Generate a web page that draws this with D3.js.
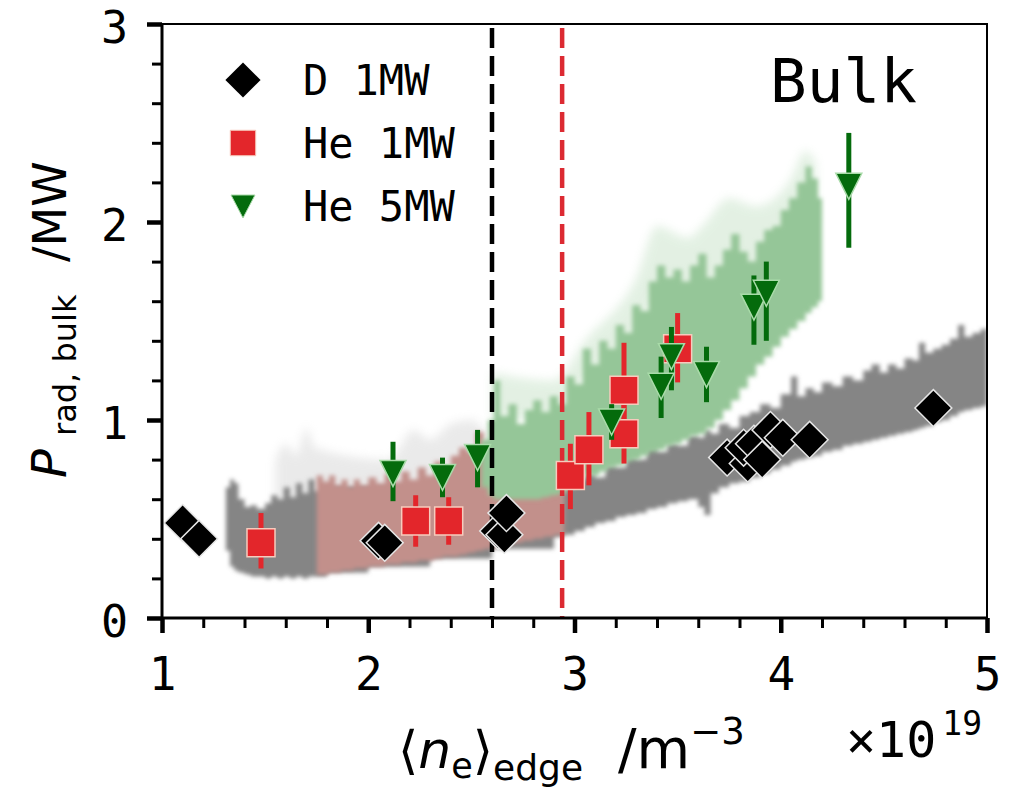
<!DOCTYPE html>
<html>
<head>
<meta charset="utf-8">
<script src="https://cdn.jsdelivr.net/npm/d3@7/dist/d3.min.js"></script>
<style>
  body { margin: 0; background: #fff }
  svg { display: block }
</style>
</head>
<body>
<svg id="chart" width="1012" height="788"></svg>
<script>
// D 1MW points
const dX = [1.10, 1.18, 2.05, 2.08, 2.63, 2.66, 2.67, 3.74, 3.84, 3.82, 3.87, 3.91, 3.95, 4.01, 4.14, 4.74]
const dY = [0.48, 0.40, 0.39, 0.38, 0.44, 0.42, 0.53, 0.81, 0.78, 0.86, 0.88, 0.80, 0.95, 0.91, 0.90, 1.06]

// He 1MW points with error bars
const he1X  = [1.48, 2.23, 2.39, 2.98, 3.07, 3.24, 3.24, 3.50]
const he1Y  = [0.38, 0.49, 0.49, 0.72, 0.85, 0.93, 1.15, 1.36]
const he1Lo = [0.25, 0.36, 0.37, 0.55, 0.67, 0.78, 0.96, 1.19]
const he1Hi = [0.53, 0.62, 0.61, 0.88, 1.04, 1.08, 1.39, 1.54]

// He 5MW points with error bars
const he5X  = [2.12, 2.36, 2.53, 3.18, 3.42, 3.47, 3.64, 3.87, 3.93, 4.33]
const he5Y  = [0.73, 0.71, 0.81, 0.99, 1.17, 1.32, 1.23, 1.57, 1.64, 2.18]
const he5Lo = [0.59, 0.61, 0.66, 0.90, 1.01, 1.15, 1.09, 1.38, 1.40, 1.87]
const he5Hi = [0.89, 0.81, 0.95, 1.08, 1.32, 1.47, 1.37, 1.73, 1.80, 2.45]

// time-trace clouds behind the points (x, lower edge, upper edge)
const dBandX  = [1.31, 1.33, 1.35, 1.37, 1.40, 1.43, 1.46, 1.50, 1.53, 1.56, 1.59, 1.62, 1.65, 1.68, 1.71, 1.74, 1.80, 2.00, 2.30, 2.60, 2.90,
                 2.95, 3.00, 3.05, 3.10, 3.15, 3.20, 3.25, 3.30, 3.35, 3.40, 3.45, 3.50, 3.55, 3.60, 3.63, 3.66, 3.70, 3.75, 3.80, 3.85,
                 3.90, 3.95, 4.00, 4.05, 4.08, 4.12, 4.16, 4.20, 4.25, 4.30, 4.35, 4.40, 4.44, 4.48, 4.52, 4.56, 4.60, 4.64, 4.67, 4.70,
                 4.74, 4.78, 4.82, 4.86, 4.89, 4.93, 4.97, 5.00]
const dBandLo = [0.34, 0.26, 0.24, 0.23, 0.22, 0.21, 0.21, 0.20, 0.21, 0.20, 0.21, 0.20, 0.21, 0.20, 0.21, 0.21, 0.23, 0.26, 0.30, 0.35, 0.41,
                 0.42, 0.44, 0.46, 0.48, 0.49, 0.51, 0.52, 0.53, 0.55, 0.56, 0.58, 0.59, 0.60, 0.56, 0.52, 0.63, 0.66, 0.68, 0.69, 0.71,
                 0.73, 0.75, 0.77, 0.79, 0.80, 0.81, 0.82, 0.84, 0.85, 0.87, 0.88, 0.89, 0.90, 0.91, 0.92, 0.93, 0.94, 0.95, 0.96, 0.97,
                 0.99, 1.00, 1.02, 1.04, 1.05, 1.06, 1.07, 1.09]
const dBandHi = [0.66, 0.70, 0.68, 0.60, 0.56, 0.57, 0.55, 0.58, 0.62, 0.60, 0.66, 0.61, 0.68, 0.63, 0.70, 0.64, 0.66, 0.66, 0.68, 0.66, 0.64,
                 0.66, 0.70, 0.73, 0.71, 0.77, 0.76, 0.81, 0.80, 0.86, 0.84, 0.88, 0.87, 0.92, 0.91, 0.95, 0.93, 0.98, 0.96, 1.02, 1.04,
                 1.08, 1.06, 1.13, 1.22, 1.12, 1.16, 1.14, 1.19, 1.17, 1.22, 1.20, 1.25, 1.28, 1.24, 1.28, 1.26, 1.31, 1.30, 1.39, 1.34,
                 1.36, 1.38, 1.41, 1.48, 1.42, 1.44, 1.46, 1.45]

const he1BandX  = [1.75, 1.78, 1.81, 1.84, 1.87, 1.90, 1.93, 1.96, 2.00, 2.04, 2.08, 2.12, 2.16, 2.20, 2.24, 2.28,
                   2.32, 2.36, 2.40, 2.44, 2.48, 2.52, 2.56, 2.60, 2.65, 2.70, 2.75, 2.80, 2.85, 2.90, 2.95]
const he1BandLo = [0.22, 0.22, 0.23, 0.23, 0.24, 0.24, 0.25, 0.25, 0.26, 0.26, 0.27, 0.27, 0.28, 0.28, 0.29, 0.29,
                   0.30, 0.31, 0.31, 0.32, 0.33, 0.34, 0.35, 0.36, 0.37, 0.38, 0.39, 0.40, 0.41, 0.42, 0.43]
const he1BandHi = [0.72, 0.69, 0.72, 0.67, 0.70, 0.66, 0.70, 0.67, 0.71, 0.68, 0.73, 0.69, 0.74, 0.70, 0.76, 0.72,
                   0.79, 0.75, 0.82, 0.86, 0.84, 0.94, 0.88, 0.84, 0.80, 0.82, 0.78, 0.80, 0.76, 0.74, 0.70]

const he5BandX  = [2.55, 2.58, 2.61, 2.64, 2.68, 2.72, 2.76, 2.80, 2.84, 2.88, 2.92, 2.96, 3.00, 3.04, 3.08, 3.12, 3.16, 3.20, 3.24, 3.28, 3.32,
                   3.36, 3.40, 3.44, 3.48, 3.52, 3.56, 3.60, 3.64, 3.68, 3.72, 3.76, 3.80, 3.84, 3.88, 3.92, 3.96, 4.00, 4.04, 4.08, 4.12,
                   4.15, 4.18, 4.20]
const he5BandLo = [0.66, 0.62, 0.60, 0.60, 0.60, 0.60, 0.60, 0.60, 0.61, 0.62, 0.63, 0.66, 0.70, 0.72, 0.72, 0.74, 0.76, 0.77, 0.79, 0.80, 0.82,
                   0.84, 0.85, 0.87, 0.88, 0.90, 0.92, 0.93, 0.96, 1.00, 1.05, 1.10, 1.16, 1.22, 1.28, 1.32, 1.37, 1.42, 1.46, 1.50, 1.54,
                   1.57, 1.60, 1.66]
const he5BandHi = [0.90, 1.00, 1.20, 1.02, 1.08, 0.98, 1.05, 1.10, 1.04, 1.12, 1.08, 1.22, 1.18, 1.36, 1.28, 1.40, 1.36, 1.48, 1.44, 1.58, 1.55,
                   1.70, 1.78, 1.72, 1.76, 1.70, 1.78, 1.84, 1.72, 1.78, 1.86, 1.94, 1.85, 1.80, 1.90, 1.96, 1.98, 2.06, 2.12, 2.20, 2.28,
                   2.22, 2.12, 2.00]

// faint scatter above the clouds
const grayHazeX  = [1.55, 1.60, 1.65, 1.70, 1.74, 2.10, 2.22, 2.30, 2.40, 2.50, 2.56]
const grayHazeLo = [0.55, 0.55, 0.55, 0.55, 0.55, 0.60, 0.65, 0.65, 0.70, 0.80, 0.80]
const grayHazeHi = [0.80, 0.88, 0.82, 0.96, 0.86, 0.80, 0.95, 0.90, 0.98, 1.00, 0.95]
const greenHazeX  = [2.60, 2.90, 3.05, 3.30, 3.40, 3.55, 3.62, 3.75, 3.88, 4.05, 4.12, 4.17]
const greenHazeLo = [1.00, 1.00, 1.20, 1.40, 1.60, 1.60, 1.60, 1.70, 1.70, 1.90, 2.00, 2.00]
const greenHazeHi = [1.24, 1.20, 1.40, 1.72, 1.98, 1.92, 1.98, 2.12, 2.08, 2.22, 2.36, 2.30]

const xMajor = [1, 2, 3, 4, 5]
const yMajor = [0, 1, 2, 3]
const vLines = [2.60, 2.94]
const vLineColors = ["#000", "#dc2a32"]
const legendNames = ["D 1MW", "He 1MW", "He 5MW"]

const svg = d3.select("#chart")
const x = d3.scaleLinear().domain([1, 5]).range([162, 987])
const y = d3.scaleLinear().domain([0, 3]).range([618, 24])

const zip3 = (a, b, c) => a.map((v, i) => ({x: v, lo: b[i], hi: c[i]}))
const area = d3.area()
    .x(d => x(d.x))
    .y0(d => y(d.lo))
    .y1(d => y(d.hi))
    .curve(d3.curveStepAfter)
const hazeArea = d3.area()
    .x(d => x(d.x))
    .y0(d => y(d.lo))
    .y1(d => y(d.hi))
    .curve(d3.curveMonotoneX)

const defs = svg.append("defs")
defs.append("clipPath").attr("id", "plotClip")
    .append("rect").attr("x", 162).attr("y", 24).attr("width", 825).attr("height", 594)
defs.append("filter").attr("id", "soft")
    .append("feGaussianBlur").attr("stdDeviation", 2)
defs.append("filter").attr("id", "softer")
    .attr("x", "-20%").attr("y", "-20%").attr("width", "140%").attr("height", "140%")
    .append("feGaussianBlur").attr("stdDeviation", 5)

const plot = svg.append("g").attr("clip-path", "url(#plotClip)")

plot.append("path")
    .datum(zip3(grayHazeX, grayHazeLo, grayHazeHi))
    .attr("d", hazeArea)
    .attr("fill", "#c4c4c4").attr("opacity", 0.35)
    .attr("filter", "url(#softer)")
plot.append("path")
    .datum(zip3(greenHazeX, greenHazeLo, greenHazeHi))
    .attr("d", hazeArea)
    .attr("fill", "#c2e0c3").attr("opacity", 0.45)
    .attr("filter", "url(#softer)")

const bands = [
    [dBandX, dBandLo, dBandHi, "#858585"],
    [he1BandX, he1BandLo, he1BandHi, "#c2908b"],
    [he5BandX, he5BandLo, he5BandHi, "#95c698"]
]
bands.forEach(([bx, lo, hi, col]) => {
    plot.append("path")
        .datum(zip3(bx, lo, hi))
        .attr("d", area)
        .attr("fill", col)
        .attr("filter", "url(#soft)")
})

// reference densities
plot.selectAll("line.vline")
    .data(vLines)
    .enter()
    .append("line")
    .attr("class", "vline")
    .attr("x1", d => x(d)).attr("x2", d => x(d))
    .attr("y1", y(3) + 4).attr("y2", y(0))
    .attr("stroke", (d, i) => vLineColors[i])
    .attr("stroke-width", 4.5)
    .attr("stroke-dasharray", "20,8")

const diamond = d3.symbol(d3.symbolSquare, 680)()
const square = d3.symbol(d3.symbolSquare, 784)()
const triDown = "M-13,-13L13,-13L0,13Z"

// D 1MW
plot.selectAll("path.d1")
    .data(dX.map((v, i) => [v, dY[i]]))
    .enter()
    .append("path")
    .attr("class", "d1")
    .attr("d", diamond)
    .attr("transform", d => `translate(${x(d[0])},${y(d[1])}) rotate(45)`)
    .attr("fill", "#000")
    .attr("stroke", "#e6e6e6")
    .attr("stroke-width", 1.5)

// He 1MW
const he1 = he1X.map((v, i) => ({x: v, y: he1Y[i], lo: he1Lo[i], hi: he1Hi[i]}))
plot.selectAll("line.e1")
    .data(he1)
    .enter()
    .append("line")
    .attr("x1", d => x(d.x)).attr("x2", d => x(d.x))
    .attr("y1", d => y(d.lo)).attr("y2", d => y(d.hi))
    .attr("stroke", "#e3262b")
    .attr("stroke-width", 5)
plot.selectAll("path.he1")
    .data(he1)
    .enter()
    .append("path")
    .attr("d", square)
    .attr("transform", d => `translate(${x(d.x)},${y(d.y)})`)
    .attr("fill", "#e3262b")
    .attr("stroke", "#f7cbbd")
    .attr("stroke-width", 1.5)

// He 5MW
const he5 = he5X.map((v, i) => ({x: v, y: he5Y[i], lo: he5Lo[i], hi: he5Hi[i]}))
plot.selectAll("line.e5")
    .data(he5)
    .enter()
    .append("line")
    .attr("x1", d => x(d.x)).attr("x2", d => x(d.x))
    .attr("y1", d => y(d.lo)).attr("y2", d => y(d.hi))
    .attr("stroke", "#046b0c")
    .attr("stroke-width", 5)
plot.selectAll("path.he5")
    .data(he5)
    .enter()
    .append("path")
    .attr("d", triDown)
    .attr("transform", d => `translate(${x(d.x)},${y(d.y)})`)
    .attr("fill", "#046b0c")
    .attr("stroke", "#a9dba9")
    .attr("stroke-width", 1.5)

// frame
svg.append("rect")
    .attr("x", 162).attr("y", 24).attr("width", 825).attr("height", 594)
    .attr("fill", "none").attr("stroke", "#000").attr("stroke-width", 2)

// axes
const mono = "'DejaVu Sans Mono', monospace"
const xMinor = d3.range(1, 5.0001, 0.2).filter(v => Math.abs(v - Math.round(v)) > 0.01)
const yMinor = d3.range(0, 3.0001, 0.2).filter(v => Math.abs(v - Math.round(v)) > 0.01)

const styleAxis = (g, w) => {
    g.select(".domain").remove()
    g.selectAll(".tick line").attr("stroke-width", w)
}
svg.append("g")
    .attr("transform", "translate(0,618)")
    .call(d3.axisBottom(x).tickValues(xMinor).tickSize(10).tickFormat(""))
    .call(g => styleAxis(g, 3))
svg.append("g")
    .attr("transform", "translate(0,618)")
    .call(d3.axisBottom(x).tickValues(xMajor).tickSize(15).tickPadding(24).tickFormat(d3.format("d")))
    .call(g => styleAxis(g, 4.5))
    .call(g => g.selectAll("text").attr("font-family", mono).attr("font-size", 46).attr("fill", "#000"))
svg.append("g")
    .attr("transform", "translate(162,0)")
    .call(d3.axisLeft(y).tickValues(yMinor).tickSize(10).tickFormat(""))
    .call(g => styleAxis(g, 3))
svg.append("g")
    .attr("transform", "translate(162,0)")
    .call(d3.axisLeft(y).tickValues(yMajor).tickSize(15).tickPadding(19).tickFormat(d3.format("d")))
    .call(g => styleAxis(g, 4.5))
    .call(g => g.selectAll("text").attr("font-family", mono).attr("font-size", 45).attr("dy", "0.4em").attr("fill", "#000"))
svg.append("line")
    .attr("x1", 162).attr("x2", 162).attr("y1", 24).attr("y2", 619)
    .attr("stroke", "#000").attr("stroke-width", 3)
svg.append("line")
    .attr("x1", 161).attr("x2", 988).attr("y1", 618).attr("y2", 618)
    .attr("stroke", "#000").attr("stroke-width", 3)

// legend
const legend = svg.append("g").attr("transform", "translate(243,80)")
const legendShapes = [
    {d: d3.symbol(d3.symbolSquare, 620)(), rot: 45, fill: "#000", stroke: "none"},
    {d: d3.symbol(d3.symbolSquare, 650)(), rot: 0, fill: "#e3262b", stroke: "#f7cbbd"},
    {d: "M-12,-11L12,-11L0,12Z", rot: 0, fill: "#046b0c", stroke: "#a9dba9"}
]
legend.selectAll("path")
    .data(legendShapes)
    .enter()
    .append("path")
    .attr("d", d => d.d)
    .attr("transform", (d, i) => `translate(0,${i * 63}) rotate(${d.rot})`)
    .attr("fill", d => d.fill)
    .attr("stroke", d => d.stroke)
legend.selectAll("text")
    .data(legendNames)
    .enter()
    .append("text")
    .attr("x", 60)
    .attr("y", (d, i) => i * 63 + 15)
    .attr("font-family", mono)
    .attr("font-size", 42)
    .attr("xml:space", "preserve")
    .text(d => d)

svg.append("text")
    .attr("x", 770).attr("y", 102)
    .attr("font-family", mono)
    .attr("font-size", 61)
    .text("Bulk")

// y label
const sans = "'DejaVu Sans', sans-serif"
svg.append("text")
    .attr("transform", "translate(66,478) rotate(-90)")
    .attr("font-family", sans).attr("font-size", 48).attr("font-style", "italic")
    .text("P")
svg.append("text")
    .attr("transform", "translate(76,436) rotate(-90)")
    .attr("font-family", sans).attr("font-size", 32)
    .text("rad, bulk")
svg.append("text")
    .attr("transform", "translate(66,262) rotate(-90)")
    .attr("font-family", sans).attr("font-size", 46)
    .text("/MW")

// x label
const xl = svg.append("text")
    .attr("x", 398).attr("y", 768)
    .attr("font-family", sans).attr("font-size", 52)
    .attr("xml:space", "preserve")
xl.append("tspan").text("\u27e8")
xl.append("tspan").attr("font-style", "italic").text("n")
xl.append("tspan").attr("font-size", 35).attr("dy", 10).text("e")
xl.append("tspan").attr("dy", -10).text("\u27e9")
xl.append("tspan").attr("font-size", 36).attr("dy", 12).text("edge")
xl.append("tspan").attr("dy", -12).attr("font-size", 55).text("  /m")
xl.append("tspan").attr("font-size", 37).attr("dy", -24).text("\u22123")

const ex = svg.append("text")
    .attr("x", 846).attr("y", 757)
    .attr("font-family", mono).attr("font-size", 50)
ex.append("tspan").text("\u00d710")
ex.append("tspan").attr("font-size", 33).attr("dx", 6).attr("dy", -22).text("19")
</script>
</body>
</html>
